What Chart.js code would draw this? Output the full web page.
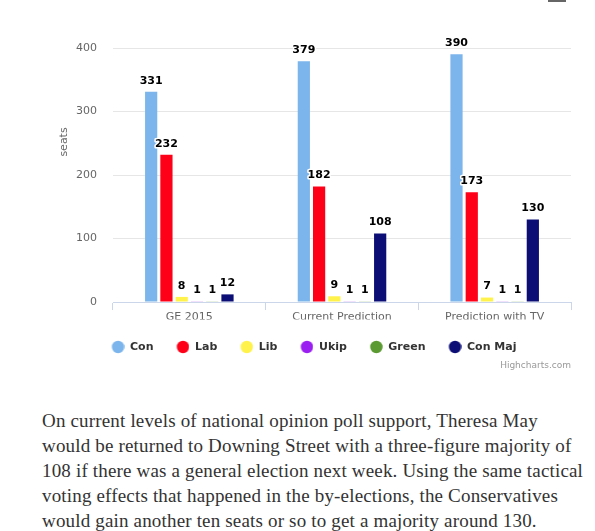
<!DOCTYPE html>
<html><head><meta charset="utf-8">
<script src="https://cdn.jsdelivr.net/npm/chart.js@4.4.0/dist/chart.umd.min.js"></script>
<style>
html,body{margin:0;padding:0;background:#fff;width:595px;height:531px;overflow:hidden;position:relative;}
#wrap{position:absolute;left:40px;top:0;width:540px;height:370px;}
#credit{position:absolute;right:24px;top:360px;font:9px "DejaVu Sans",sans-serif;color:#999;}
#topbar{position:absolute;left:548px;top:0;width:18px;height:2px;background:#666;}
#para{position:absolute;left:42px;top:408px;font-family:"Liberation Serif","DejaVu Serif",serif;font-size:19px;letter-spacing:0.17px;line-height:25px;color:#333;white-space:nowrap;}
</style></head>
<body>
<div id="topbar"></div>
<div id="wrap"><canvas id="c"></canvas></div>
<div id="credit">Highcharts.com</div>
<div id="para">On current levels of national opinion poll support, Theresa May<br>would be returned to Downing Street with a three-figure majority of<br>108 if there was a general election next week. Using the same tactical<br>voting effects that happened in the by-elections, the Conservatives<br>would gain another ten seats or so to get a majority around 130.</div>
<script>
const categories = ["GE 2015", "Current Prediction", "Prediction with TV"];
const conSeats = [331, 379, 390];
const labSeats = [232, 182, 173];
const libSeats = [8, 9, 7];
const ukipSeats = [1, 1, 1];
const greenSeats = [1, 1, 1];
const conMaj = [12, 108, 130];
const yTicks = [0, 100, 200, 300, 400];
const seriesNames = ["Con", "Lab", "Lib", "Ukip", "Green", "Con Maj"];
const seriesColors = ["#7cb5ec", "#ff0019", "#fff24b", "#9a1ff0", "#5b9a32", "#0c0e75"];
const seriesData = [conSeats, labSeats, libSeats, ukipSeats, greenSeats, conMaj];

function dotImage(color) {
  const c = document.createElement('canvas');
  c.width = 14; c.height = 14;
  const g = c.getContext('2d');
  g.fillStyle = color;
  g.beginPath();
  g.arc(7.5, 7, 6.2, 0, Math.PI * 2);
  g.fill();
  return c;
}
const dots = seriesColors.map(dotImage);

const labelPlugin = {
  id: 'labels',
  afterDatasetsDraw(chart) {
    const ctx = chart.ctx;
    ctx.save();
    ctx.font = 'bold 11px "DejaVu Sans", sans-serif';
    ctx.textAlign = 'center';
    ctx.textBaseline = 'middle';
    ctx.lineJoin = 'round';
    chart.data.datasets.forEach((ds, i) => {
      const meta = chart.getDatasetMeta(i);
      meta.data.forEach((bar, j) => {
        const t = String(ds.data[j]);
        const y = bar.y - 11;
        ctx.strokeStyle = '#fff';
        ctx.lineWidth = 3;
        ctx.strokeText(t, bar.x, y);
        ctx.fillStyle = '#000';
        ctx.fillText(t, bar.x, y);
      });
    });
    const a = chart.chartArea;
    ctx.save();
    ctx.translate(24, a.top + (a.bottom - a.top) * 0.37);
    ctx.rotate(-Math.PI / 2);
    ctx.font = '11px "DejaVu Sans", sans-serif';
    ctx.fillStyle = '#666';
    ctx.fillText('seats', 0, 0);
    ctx.restore();
    ctx.restore();
  }
};

new Chart(document.getElementById('c'), {
  type: 'bar',
  data: {
    labels: categories,
    datasets: seriesNames.map((n, i) => ({
      label: n,
      data: seriesData[i],
      backgroundColor: seriesColors[i],
      borderWidth: 0,
      categoryPercentage: 0.6,
      barPercentage: 0.8
    }))
  },
  options: {
    responsive: true,
    maintainAspectRatio: false,
    animation: false,
    devicePixelRatio: 1,
    layout: { padding: { top: 48, right: 9, bottom: 7.5, left: 16 } },
    plugins: {
      tooltip: { enabled: false },
      legend: {
        position: 'bottom',
        labels: {
          usePointStyle: true,
          pointStyleWidth: 14,
          boxHeight: 11,
          padding: 22,
          color: '#333',
          font: { family: '"DejaVu Sans", sans-serif', size: 11, weight: 'bold' },
          generateLabels(chart) {
            const items = Chart.defaults.plugins.legend.labels.generateLabels(chart);
            items.forEach((it, i) => { it.pointStyle = dots[i]; it.fontColor = '#333'; });
            return items;
          }
        }
      }
    },
    scales: {
      x: {
        grid: { display: true, drawOnChartArea: false, drawTicks: true, tickLength: 8, color: '#ccd6eb', offset: true },
        border: { display: true, color: '#ccd6eb' },
        ticks: { color: '#666', font: { family: '"DejaVu Sans", sans-serif', size: 11 }, padding: 1 },
        afterFit(s) { s.height = 17.5; }
      },
      y: {
        min: 0, max: 400,
        afterBuildTicks(s) { s.ticks = yTicks.map(v => ({ value: v })); },
        grid: { color: '#e6e6e6', drawTicks: false },
        border: { display: false },
        ticks: { color: '#666', font: { family: '"DejaVu Sans", sans-serif', size: 11 }, padding: 16 },
        afterFit(s) { s.width = 57; }
      }
    }
  },
  plugins: [labelPlugin]
});
</script>
</body></html>
